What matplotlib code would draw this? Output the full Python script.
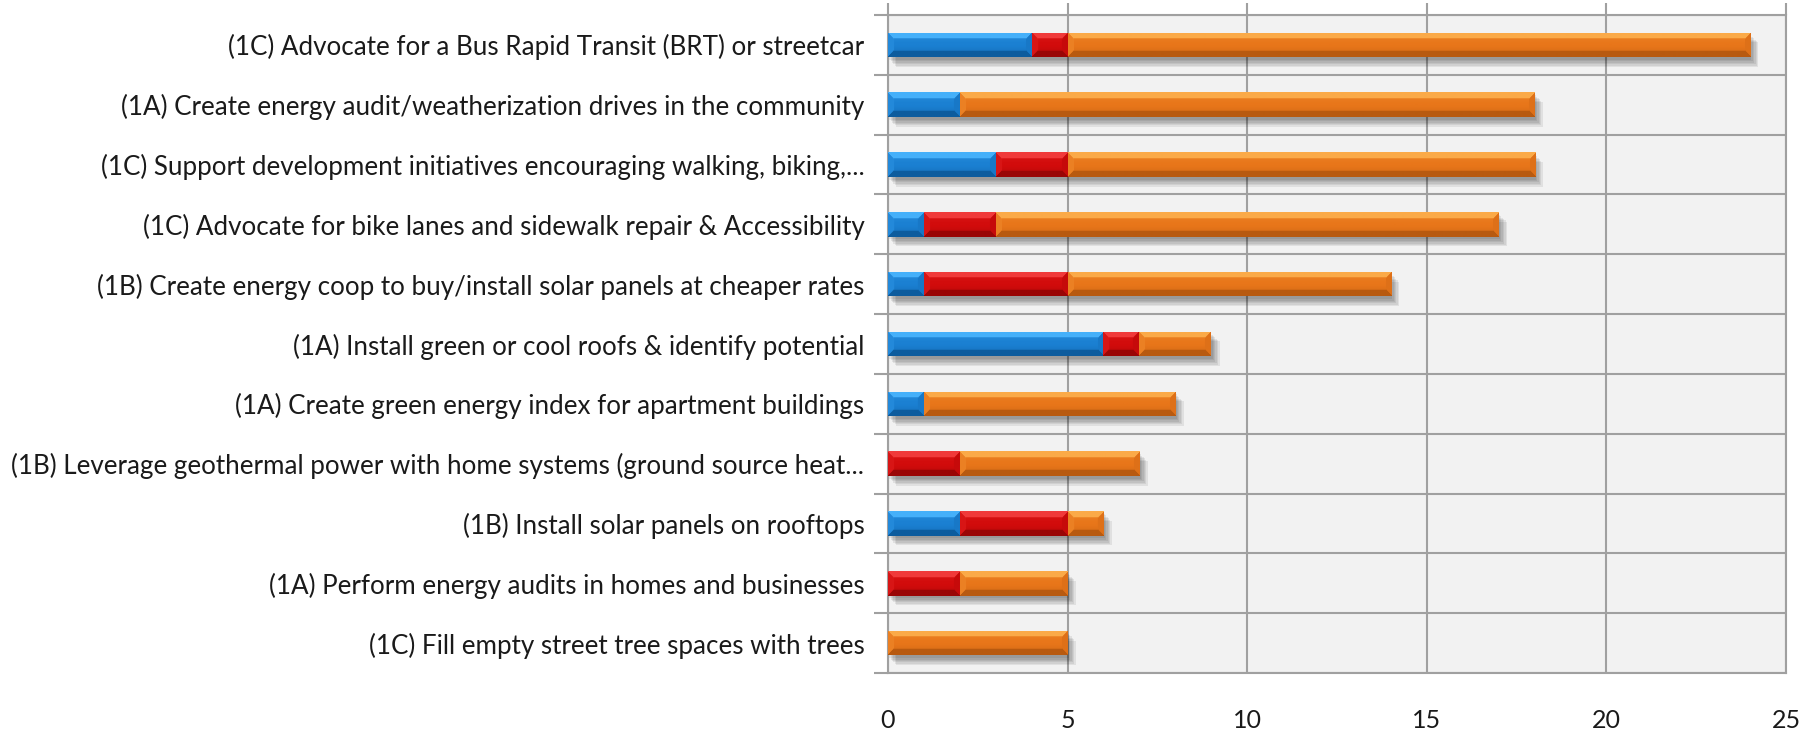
import numpy as np
import matplotlib
matplotlib.use("Agg")
import matplotlib.pyplot as plt
from matplotlib import patheffects as pe

categories = [
    "(1C) Advocate for a Bus Rapid Transit (BRT) or streetcar",
    "(1A) Create energy audit/weatherization drives in the community",
    "(1C) Support development initiatives encouraging walking, biking,...",
    "(1C) Advocate for bike lanes and sidewalk repair & Accessibility",
    "(1B) Create energy coop to buy/install solar panels at cheaper rates",
    "(1A) Install green or cool roofs & identify potential",
    "(1A) Create green energy index for apartment buildings",
    "(1B) Leverage geothermal power with home systems (ground source heat...",
    "(1B) Install solar panels on rooftops",
    "(1A) Perform energy audits in homes and businesses",
    "(1C) Fill empty street tree spaces with trees",
]
blue_vals = [4, 2, 3, 1, 1, 6, 1, 0, 2, 0, 0]
red_vals = [1, 0, 2, 2, 4, 1, 0, 2, 3, 2, 0]
orange_vals = [19, 16, 13, 14, 9, 2, 7, 5, 1, 3, 5]
x_ticks = [0, 5, 10, 15, 20, 25]

series = [
    (blue_vals, "#1b80d2", "#45b0fa", "#0d5c9e"),
    (red_vals, "#d20c0c", "#f03a3a", "#9a0606"),
    (orange_vals, "#e8761a", "#fbaa48", "#b85a10"),
]

label_font = "Lato"

fig = plt.figure(figsize=(18.18, 7.32), dpi=100)
ax = fig.add_axes([0.4884, 0.0806, 0.4940, 0.8989])
ax.set_facecolor("#f2f2f2")
n = len(categories)
ypos = np.arange(n)
ax.set_xlim(0, 25)
ax.set_ylim(n - 0.5, -0.5)

bar_h = 0.41


def hex2rgb(h):
    return np.array(matplotlib.colors.to_rgb(h))


def bevel_image(wpx, hpx, base, light, dark, bev=6):
    wpx = max(int(wpx), 2)
    hpx = max(int(hpx), 2)
    xx, yy = np.meshgrid(np.arange(wpx) + 0.5, np.arange(hpx) + 0.5)
    dt = yy
    db = hpx - yy
    dl = xx
    dr = wpx - xx
    b = hex2rgb(base)
    l = hex2rgb(light)
    d = hex2rgb(dark)
    img = np.empty((hpx, wpx, 3))
    t = yy / hpx
    mid = b[None, None, :] * np.ones((hpx, wpx, 1))
    grad_top = np.clip((0.45 - t) / 0.45, 0, 1)[..., None]
    grad_bot = np.clip((t - 0.55) / 0.45, 0, 1)[..., None]
    mid = mid + grad_top * 0.3 * (l - b) + grad_bot * 0.5 * (d - b)
    img[:] = mid
    dmin = np.minimum(np.minimum(dt, db), np.minimum(dl, dr))
    inb = dmin < bev
    top = inb & (dt == dmin)
    bot = inb & (db == dmin) & ~top
    left = inb & (dl == dmin) & ~top & ~bot
    right = inb & (dr == dmin) & ~top & ~bot & ~left
    img[top] = l
    img[bot] = d
    img[left] = b * 0.8 + l * 0.2
    img[right] = b * 0.8 + d * 0.2
    return img


shadow = [pe.SimplePatchShadow(offset=(o, -o - 1), shadow_rgbFace="#000000", alpha=0.07)
          for o in (1, 2, 3, 4, 5, 6)] + [pe.Normal()]

lefts = np.zeros(n)
fig.canvas.draw()
for vals, base, light, dark in series:
    vals = np.array(vals, dtype=float)
    bars = ax.barh(ypos, vals, left=lefts, height=bar_h, color=base,
                   edgecolor="none", zorder=3, path_effects=shadow)
    for p, v in zip(bars.patches, vals):
        if v <= 0:
            continue
        x0, y0 = p.get_x(), p.get_y()
        w, h = p.get_width(), p.get_height()
        (px0, py0), (px1, py1) = ax.transData.transform([(x0, y0), (x0 + w, y0 + h)])
        img = bevel_image(abs(px1 - px0), abs(py1 - py0), base, light, dark)
        im = ax.imshow(img, extent=(x0, x0 + w, y0 + h, y0), aspect="auto",
                       interpolation="bilinear", zorder=4, origin="upper")
        im.set_clip_path(p)
    lefts = lefts + vals

ax.set_xlim(0, 25)
ax.set_ylim(n - 0.5, -0.5)

ax.set_xticks(x_ticks)
ax.set_xticklabels([str(t) for t in x_ticks], fontsize=18, family=label_font, color="#1a1a1a")
ax.set_yticks(ypos)
ax.set_yticklabels(categories, fontsize=18.7, family=label_font, color="#1a1a1a")
ax.set_yticks(np.arange(n + 1) - 0.5, minor=True)
ax.tick_params(axis="y", which="major", length=0, pad=17)
ax.tick_params(axis="y", which="minor", length=10, color="#a0a0a0", width=1.5, direction="out")
ax.tick_params(axis="x", which="major", bottom=False, top=True, labeltop=False,
               length=9, color="#a0a0a0", width=1.5, direction="out", pad=17)

ax.grid(True, axis="x", which="major", color="#a0a0a0", linewidth=1.5, zorder=1)
ax.grid(True, axis="y", which="minor", color="#a0a0a0", linewidth=1.5, zorder=1)
ax.grid(False, axis="y", which="major")
ax.set_axisbelow(True)
for s in ax.spines.values():
    s.set_color("#a0a0a0")
    s.set_linewidth(1.5)

fig.savefig("out.png", dpi=100, facecolor="white")
